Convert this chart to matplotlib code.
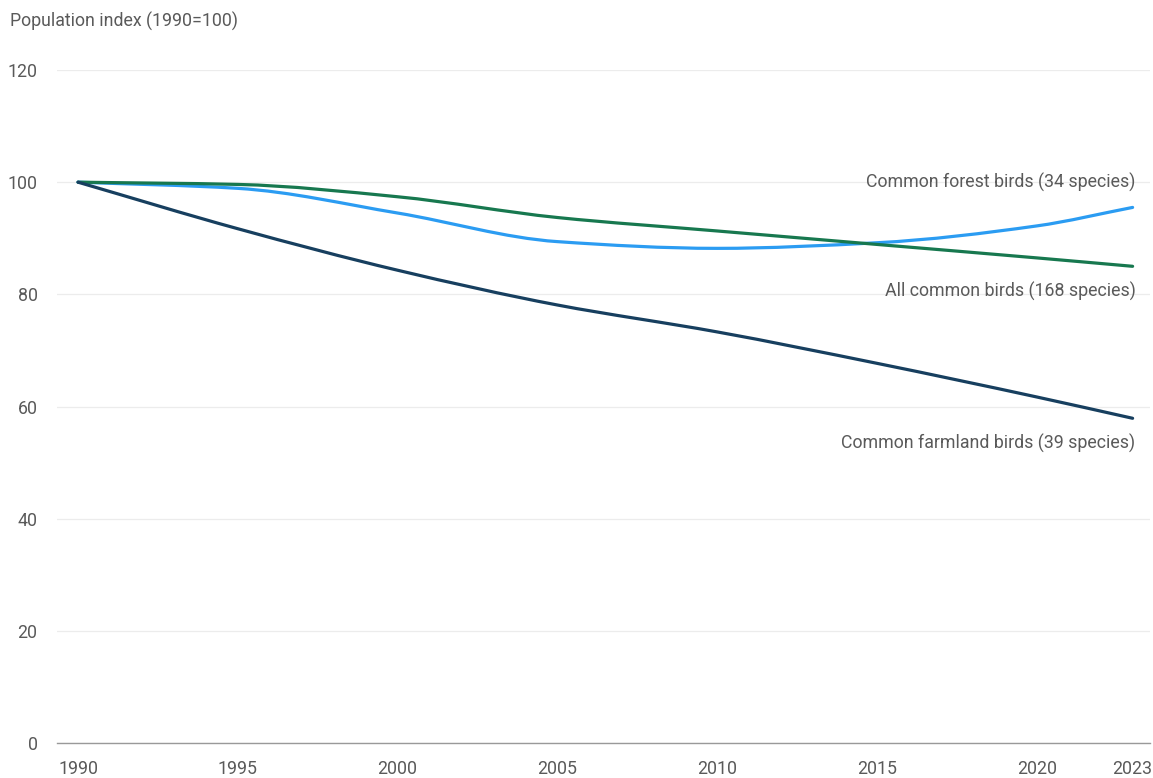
import numpy as np
import matplotlib
matplotlib.use("Agg")
import matplotlib.pyplot as plt
from matplotlib.path import Path
from matplotlib.patches import PathPatch

plt.rcParams['font.family'] = ['Roboto', 'DejaVu Sans']

years = [1990, 1995, 2000, 2005, 2010, 2015, 2020, 2023]
forest = [100, 98.9, 94.5, 89.4, 88.2, 89.2, 92.2, 95.5]
all_birds = [100, 99.6, 97.4, 93.7, 91.3, 88.9, 86.5, 85.0]
farmland = [100, 91.7, 84.3, 78.1, 73.3, 67.7, 61.7, 57.9]

series_names = ["Common forest birds (34 species)",
                "All common birds (168 species)",
                "Common farmland birds (39 species)"]
colors = ["#2b9cf2", "#17784f", "#173f5f"]
label_offsets = [18, -18, -18]

y_ticks = [0, 20, 40, 60, 80, 100, 120]
x_ticks = [1990, 1995, 2000, 2005, 2010, 2015, 2020, 2023]

TEXT_COLOR = "#5a5a5a"
FS = 12.8


def monotone_path(x, y):
    # Fritsch-Carlson monotone cubic, written out as bezier segments
    x = np.asarray(x, float)
    y = np.asarray(y, float)
    h = np.diff(x)
    d = np.diff(y) / h
    m = np.zeros_like(y)
    m[0], m[-1] = d[0], d[-1]
    for i in range(1, len(y) - 1):
        if d[i - 1] * d[i] <= 0:
            m[i] = 0
        else:
            w1 = 2 * h[i] + h[i - 1]
            w2 = h[i] + 2 * h[i - 1]
            m[i] = (w1 + w2) / (w1 / d[i - 1] + w2 / d[i])
    verts = [(x[0], y[0])]
    codes = [Path.MOVETO]
    for i in range(len(x) - 1):
        verts += [(x[i] + h[i] / 3, y[i] + m[i] * h[i] / 3),
                  (x[i + 1] - h[i] / 3, y[i + 1] - m[i + 1] * h[i] / 3),
                  (x[i + 1], y[i + 1])]
        codes += [Path.CURVE4] * 3
    return Path(verts, codes)


fig = plt.figure(figsize=(11.53, 7.78), dpi=100)
ax = fig.add_axes([0.0494, 0.045, 0.9476, 0.865])

for vals, name, col, off in zip([forest, all_birds, farmland], series_names, colors, label_offsets):
    patch = PathPatch(monotone_path(years, vals), facecolor="none", edgecolor=col,
                      linewidth=2.3, capstyle="round", zorder=3)
    ax.add_patch(patch)
    ax.annotate(name, xy=(years[-1], vals[-1]), xytext=(2, off), textcoords="offset points",
                ha="right", va="center", fontsize=FS, color=TEXT_COLOR)

ax.set_xlim(1989.34, 2023.53)
ax.set_ylim(0, 120)
ax.set_yticks(y_ticks)
ax.set_xticks(x_ticks)
ax.grid(axis="y", color="#ececec", linewidth=0.9)
ax.set_axisbelow(True)
for s in ["top", "right", "left"]:
    ax.spines[s].set_visible(False)
ax.spines["bottom"].set_color("#999999")
ax.spines["bottom"].set_linewidth(1.0)
ax.tick_params(axis="both", length=0, labelsize=FS, labelcolor=TEXT_COLOR)
ax.tick_params(axis="y", pad=14)
ax.tick_params(axis="x", pad=12)

fig.text(0.009, 0.972, "Population index (1990=100)", fontsize=FS, color=TEXT_COLOR,
         ha="left", va="center")

fig.savefig("out.png", dpi=100, facecolor="white")
